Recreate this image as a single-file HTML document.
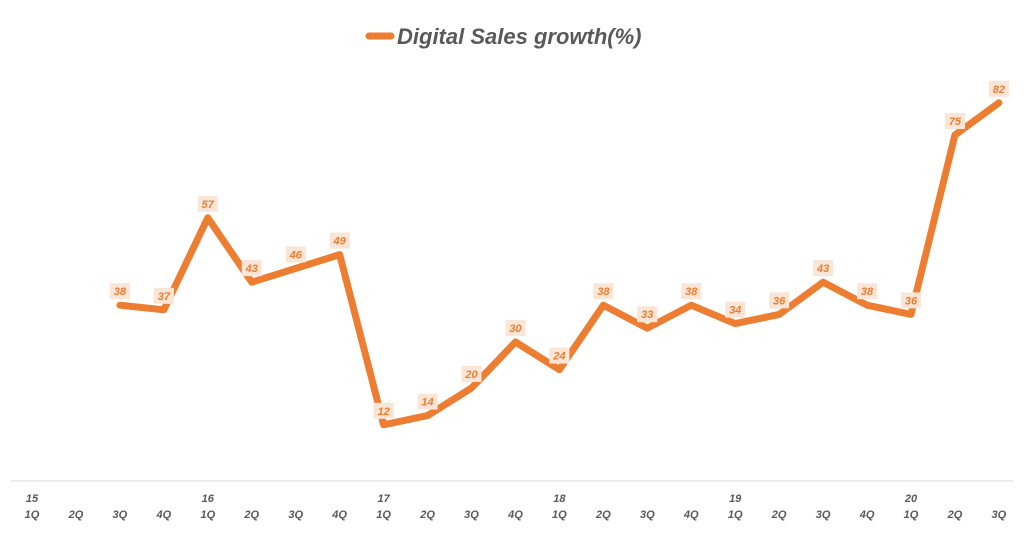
<!DOCTYPE html>
<html><head><meta charset="utf-8"><style>
body{margin:0;background:#fff;}
svg text{font-family:"Liberation Sans",sans-serif;font-style:italic;font-weight:bold;}
</style></head><body>
<svg id="chart" width="1024" height="541" viewBox="0 0 1024 541">
<g>
<line x1="369" y1="36" x2="391" y2="36" stroke="#ED7D31" stroke-width="7" stroke-linecap="round"/>
<text x="397" y="44" font-size="22" fill="#595959">Digital Sales growth(%)</text>
</g>
<line x1="11" y1="481" x2="1013" y2="481" stroke="#d9d9d9" stroke-width="1"/>
<g id="xlabels"></g>
<path id="series" fill="none" stroke="#ED7D31" stroke-width="7" stroke-linejoin="round" stroke-linecap="round"/>
<g id="dlabels"></g>
</svg>
<script>
const years = ["15","","","","16","","","","17","","","","18","","","","19","","","","20","",""];
const quarters = ["1Q","2Q","3Q","4Q","1Q","2Q","3Q","4Q","1Q","2Q","3Q","4Q","1Q","2Q","3Q","4Q","1Q","2Q","3Q","4Q","1Q","2Q","3Q"];
const values = [null,null,38,37,57,43,46,49,12,14,20,30,24,38,33,38,34,36,43,38,36,75,82];
const NS="http://www.w3.org/2000/svg";
const xs=i=>32+i*43.95;
const ys=v=>480-v*4.6;
const xl=document.getElementById('xlabels');
quarters.forEach((q,i)=>{
  if(years[i]){
    const t=document.createElementNS(NS,'text');
    
    
    t.setAttribute('x',xs(i));t.setAttribute('y',502);t.setAttribute('text-anchor','middle');
    t.setAttribute('font-size','11');t.setAttribute('fill','#595959');t.textContent=years[i];xl.appendChild(t);
  }
  const t=document.createElementNS(NS,'text');
  
  
  t.setAttribute('x',xs(i));t.setAttribute('y',518);t.setAttribute('text-anchor','middle');
  t.setAttribute('font-size','11');t.setAttribute('fill','#595959');t.textContent=q;xl.appendChild(t);
});
let d='';
values.forEach((v,i)=>{if(v===null)return;d+=(d?'L':'M')+xs(i)+' '+ys(v)+' ';});
document.getElementById('series').setAttribute('d',d);
const dl=document.getElementById('dlabels');
values.forEach((v,i)=>{
  if(v===null)return;
  const x=xs(i),y=ys(v)-14;
  const r=document.createElementNS(NS,'rect');
  
  
  r.setAttribute('x',x-10);r.setAttribute('y',y-8);r.setAttribute('width',20);r.setAttribute('height',16);
  r.setAttribute('fill','#FBE5D6');dl.appendChild(r);
  const t=document.createElementNS(NS,'text');
  
  
  t.setAttribute('x',x);t.setAttribute('y',y+4);t.setAttribute('text-anchor','middle');
  t.setAttribute('font-size','11');t.setAttribute('fill','#ED7D31');t.textContent=v;dl.appendChild(t);
});
</script>
</body></html>
